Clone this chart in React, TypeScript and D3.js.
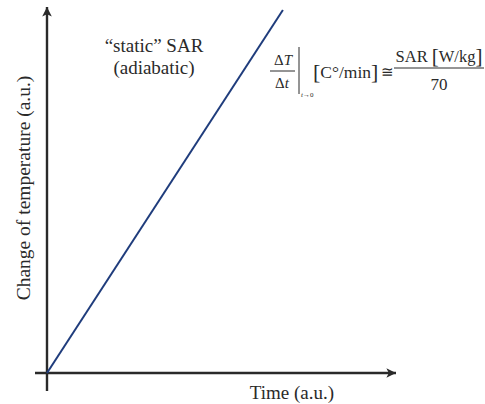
import React, { useEffect, useRef } from 'react';
import * as d3 from 'd3';

// adiabatic heating: temperature rises linearly with time
const timeValues = [0, 0.674];
const tempValues = [0, 1];
const xLabel = 'Time (a.u.)';
const yLabel = 'Change of temperature (a.u.)';
const noteLines = ['\u201Cstatic\u201D SAR', '(adiabatic)'];

const W = 485, H = 404;
const FONT = 'Liberation Serif, Times New Roman, serif';
const INK = '#2a2a2a';

const App = () => {
    const ref = useRef<SVGSVGElement>(null);

    useEffect(() => {
        if (!ref.current) return;
        const svg = d3.select(ref.current).attr('font-family', FONT);
        svg.selectAll('*').remove();

        const x = d3.scaleLinear().domain([0, 1]).range([47, 397]);
        const y = d3.scaleLinear().domain([0, 1]).range([373, 10]);

        const defs = svg.append('defs');
        defs.append('marker')
            .attr('id', 'arr')
            .attr('viewBox', '0 0 10 10')
            .attr('refX', 9).attr('refY', 5)
            .attr('markerWidth', 5).attr('markerHeight', 5)
            .attr('markerUnits', 'strokeWidth')
            .attr('orient', 'auto')
            .append('path')
            .attr('d', 'M1,1 L9,5 L1,9 L3,5 Z')
            .attr('fill', INK);

        // axes with arrows
        svg.append('line')
            .attr('x1', x(0) - 12).attr('y1', y(0))
            .attr('x2', x(1) - 1).attr('y2', y(0))
            .attr('stroke', INK).attr('stroke-width', 2.4)
            .attr('marker-end', 'url(#arr)');
        svg.append('line')
            .attr('x1', x(0)).attr('y1', y(0) + 18)
            .attr('x2', x(0)).attr('y2', y(1) - 3)
            .attr('stroke', INK).attr('stroke-width', 2.4)
            .attr('marker-end', 'url(#arr)');

        const pts = timeValues.map((t, i) => [t, tempValues[i]] as [number, number]);
        svg.append('path')
            .attr('d', d3.line().x(d => x(d[0])).y(d => y(d[1]))(pts))
            .attr('fill', 'none')
            .attr('stroke', '#1f3c7c')
            .attr('stroke-width', 2);

        svg.append('text')
            .attr('x', 292).attr('y', 399)
            .attr('text-anchor', 'middle')
            .attr('font-size', 19).attr('fill', INK)
            .text(xLabel);
        svg.append('text')
            .attr('transform', 'translate(30,188) rotate(-90)')
            .attr('text-anchor', 'middle')
            .attr('font-size', 19.5).attr('fill', INK)
            .text(yLabel);

        svg.append('g').selectAll('text')
            .data(noteLines)
            .enter().append('text')
            .attr('x', 154).attr('y', (d, i) => 52 + i * 22)
            .attr('text-anchor', 'middle')
            .attr('font-size', 19).attr('fill', INK)
            .text(d => d);

        // equation dT/dt|t->0 [C°/min] ≅ SAR[W/kg]/70
        const eq = svg.append('g').attr('fill', INK);
        const num = eq.append('text').attr('x', 283).attr('y', 65).attr('text-anchor', 'middle').attr('font-size', 15);
        num.append('tspan').text('\u0394');
        num.append('tspan').attr('font-style', 'italic').text('T');
        eq.append('line').attr('x1', 270).attr('x2', 295).attr('y1', 71).attr('y2', 71).attr('stroke', INK).attr('stroke-width', 1);
        const den = eq.append('text').attr('x', 282).attr('y', 88).attr('text-anchor', 'middle').attr('font-size', 15);
        den.append('tspan').text('\u0394');
        den.append('tspan').attr('font-style', 'italic').text('t');
        eq.append('line').attr('x1', 299).attr('x2', 299).attr('y1', 47).attr('y2', 94).attr('stroke', INK).attr('stroke-width', 1);
        const sub = eq.append('text').attr('x', 301).attr('y', 97).attr('font-size', 7);
        sub.append('tspan').attr('font-style', 'italic').text('t');
        sub.append('tspan').text('\u21920');

        const unit = eq.append('text').attr('x', 313).attr('y', 78).attr('font-size', 17.5);
        unit.append('tspan').attr('font-size', 22).attr('dy', 1).text('[');
        unit.append('tspan').attr('dy', -1).text('C\u00B0/min');
        unit.append('tspan').attr('font-size', 22).attr('dy', 1).text(']');
        eq.append('text').attr('x', 381).attr('y', 77).attr('font-size', 15).text('\u2245');

        eq.append('line').attr('x1', 394).attr('x2', 484).attr('y1', 68).attr('y2', 68).attr('stroke', INK).attr('stroke-width', 1);
        const sar = eq.append('text').attr('x', 439).attr('y', 62).attr('text-anchor', 'middle').attr('font-size', 16.5);
        sar.append('tspan').text('SAR ');
        sar.append('tspan').attr('font-size', 21).attr('dy', 1).text('[');
        sar.append('tspan').attr('dy', -1).text('W/kg');
        sar.append('tspan').attr('font-size', 21).attr('dy', 1).text(']');
        eq.append('text').attr('x', 439).attr('y', 90).attr('text-anchor', 'middle').attr('font-size', 17).text('70');
    }, []);

    return (
        <svg ref={ref} width={W} height={H}
            style={{ position: 'absolute', left: 0, top: 0, background: '#fff' }} />
    );
};

export default App;
